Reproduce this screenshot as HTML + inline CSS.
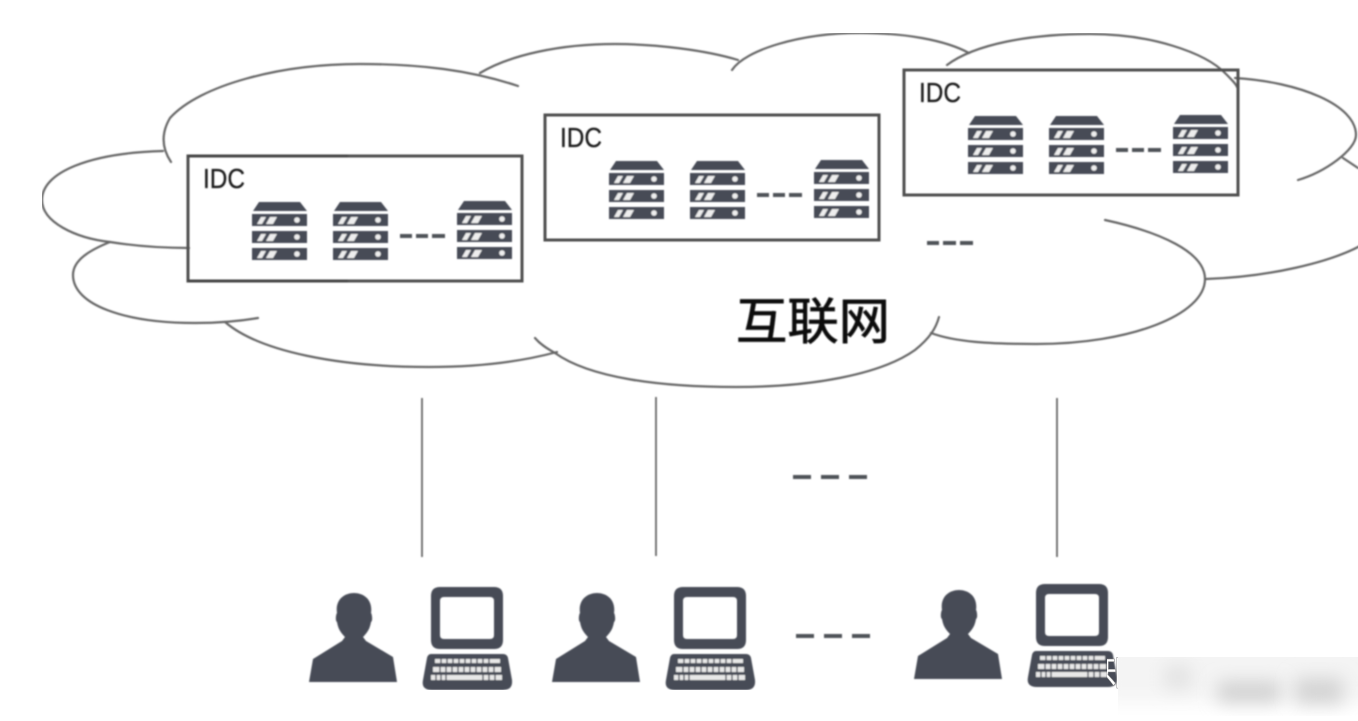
<!DOCTYPE html>
<html><head><meta charset="utf-8">
<style>
html,body{margin:0;padding:0;background:#fff;width:1358px;height:721px;overflow:hidden}
svg{display:block;position:absolute;left:0;top:0}
.all{filter:url(#soft)}
.cloud{fill:none;stroke:#666;stroke-width:2.2;stroke-linecap:round}
.box{fill:none;stroke:#505050;stroke-width:3}
.idc{font-family:"Liberation Sans",sans-serif;font-size:28px;fill:#1c1c1c;stroke:#1c1c1c;stroke-width:.3}
.cn{font-family:"Liberation Sans","Noto Sans CJK SC",sans-serif;font-size:50px;fill:#111;stroke:#111;stroke-width:.8}
.d{fill:#474b56}
.dash{stroke:#4f5259;stroke-width:4;fill:none}
.v{stroke:#606060;stroke-width:1.7}
</style></head>
<body>
<svg width="1358" height="721" viewBox="0 0 1358 721" xmlns="http://www.w3.org/2000/svg">
<defs>
<filter id="soft" x="0" y="0" width="100%" height="100%"><feGaussianBlur stdDeviation="0.7"/></filter>
<filter id="b6" x="-60%" y="-100%" width="220%" height="300%"><feGaussianBlur stdDeviation="9"/></filter>
<clipPath id="wm"><rect x="1107" y="640" width="11" height="70"/></clipPath>
<clipPath id="blurclip"><rect x="1118" y="657" width="240" height="59"/></clipPath>
<g id="srv">
  <path class="d" d="M1,9 L7,0 L48,0 L55,9 Z"/>
  <rect class="d" x="0" y="12" width="55" height="12"/>
  <rect class="d" x="0" y="29" width="55" height="12"/>
  <rect class="d" x="0" y="46" width="55" height="12"/>
  <g fill="#eeeeee">
    <path d="M5,22 L9,15 L14,15 L10,22Z M14,22 L18,15 L25,15 L21,22Z"/>
    <path d="M5,39 L9,32 L14,32 L10,39Z M14,39 L18,32 L25,32 L21,39Z"/>
    <path d="M5,56 L9,49 L14,49 L10,56Z M14,56 L18,49 L25,49 L21,56Z"/>
    <circle cx="45" cy="18" r="2.8"/><circle cx="45" cy="35" r="2.8"/><circle cx="45" cy="52" r="2.8"/>
  </g>
</g>
<g id="idc">
  <rect class="box" x="188" y="156" width="334" height="125"/>
  <use href="#srv" x="252" y="202"/>
  <use href="#srv" x="333" y="202"/>
  <use href="#srv" x="457" y="201"/>
  <path class="dash" d="M400,236h12M416,236h12M432,236h13"/>
</g>
<g id="user">
  <path class="d" d="M309,682 L313,659 L342,641 L345,637 C340,632 338,628 337,622 C335,621 336,614 337,613 C335,600 344,593 354,593 C364,593 373,600 371,613 C372,614 373,621 371,622 C370,628 368,632 363,637 L366,641 L393,657 L397,682 Z"/>
  <path class="d" fill-rule="evenodd" d="M440,587 H494 Q503,587 503,596 V640 Q503,649 494,649 H440 Q431,649 431,640 V596 Q431,587 440,587Z M444,597 Q440,597 440,601 V635 Q440,639 444,639 H490 Q494,639 494,635 V601 Q494,597 490,597Z"/>
  <path class="d" d="M431,654 H503 Q507,654 508,658 L512,680 Q513,690 503,690 H432 Q421,690 423,680 L427,658 Q428,654 431,654Z"/>
  <g fill="#e8e8e8">
    <rect x="435" y="659" width="65" height="4"/>
    <rect x="433" y="667" width="68" height="5"/>
    <rect x="431" y="675" width="71" height="5"/>
  </g>
  <g stroke="#474b56" stroke-width="1.3">
    <path d="M441,658v6M447,658v6M453,658v6M459,658v6M465,658v6M471,658v6M477,658v6M483,658v6M489,658v6"/>
    <path d="M440,666v7M446,666v7M452,666v7M458,666v7M464,666v7M470,666v7M476,666v7M482,666v7M488,666v7M494,666v7"/>
    <path d="M436,674v7M441,674v7M446,674v7M483,674v7M489,674v7M495,674v7"/>
  </g>
</g>
</defs>

<g class="all">
  <!-- cloud -->
  <path class="cloud" d="M171,162 C163,150 160,135 170,118 C200,85 280,64 360,64 C420,64 470,70 518,86"/>
  <path class="cloud" d="M480,73 C510,55 560,44 615,44 C655,44 705,50 738,60"/>
  <path class="cloud" d="M732,70 C745,50 800,33 860,33 C905,33 945,40 969,53"/>
  <path class="cloud" d="M947,65 C975,44 1030,34 1090,34 C1150,34 1205,52 1226,74 C1232,80 1236,84 1237,87"/>
  <path class="cloud" d="M1235,78 C1300,82 1356,105 1356,135 C1356,150 1325,172 1298,180"/>
  <path class="cloud" d="M1343,158 L1358,168"/>
  <path class="cloud" d="M1105,220 C1160,232 1205,252 1205,279 C1205,315 1130,344 1036,344 C990,344 955,342 931,333"/>
  <path class="cloud" d="M1206,279 C1270,277 1330,262 1360,246"/>
  <path class="cloud" d="M939,317 C936,328 930,338 915,350 C880,375 810,387 736,387 C660,387 590,378 555,353 C546,348 540,344 535,338"/>
  <path class="cloud" d="M225,322 C260,352 340,367 429,367 C480,367 520,362 557,352"/>
  <path class="cloud" d="M258,318 C240,321 220,323 195,323 C125,323 73,305 73,275 C73,260 90,250 110,242"/>
  <path class="cloud" d="M163,151 C90,153 42,172 42,200 C42,222 75,238 110,242 C135,246 160,248 189,248"/>

  <!-- IDC boxes -->
  <use href="#idc"/>
  <use href="#idc" x="357" y="-41"/>
  <use href="#idc" x="716" y="-86"/>
  <path d="M188,156H348M188,281H348" stroke="#444" stroke-width="3" fill="none"/>
  <text class="idc" x="203" y="188" textLength="42" lengthAdjust="spacingAndGlyphs">IDC</text>
  <text class="idc" x="560" y="147" textLength="42" lengthAdjust="spacingAndGlyphs">IDC</text>
  <text class="idc" x="919" y="102" textLength="42" lengthAdjust="spacingAndGlyphs">IDC</text>

  <path class="dash" d="M927,243h12M943,243h13M960,243h13"/>
  <text class="cn" x="736" y="339" textLength="154" lengthAdjust="spacingAndGlyphs">互联网</text>

  <!-- connectors -->
  <line class="v" x1="422" y1="398" x2="422" y2="557"/>
  <line class="v" x1="656" y1="397" x2="656" y2="556"/>
  <line class="v" x1="1057" y1="398" x2="1057" y2="557"/>
  <path class="dash" d="M793,477h18M821,477h18M849,477h18"/>
  <path class="dash" d="M796,636h18M824,636h18M852,636h18"/>

  <!-- users -->
  <use href="#user"/>
  <use href="#user" x="243" y="0"/>
  <use href="#user" x="605" y="-3"/>
</g>

<!-- watermark -->
<g clip-path="url(#wm)">
  <text x="1096" y="686" font-family="'Liberation Sans','Noto Sans CJK SC',sans-serif" font-size="38" fill="#fff" stroke="#8a8a8a" stroke-width="0.5">知</text>
</g>
<rect x="1118" y="657" width="240" height="59" fill="#fff"/>
<g clip-path="url(#blurclip)">
  <rect x="1100" y="640" width="280" height="62" fill="#f4f4f4" filter="url(#b6)"/>
  <rect x="1165" y="665" width="26" height="24" fill="#e2e2e2" filter="url(#b6)"/>
  <rect x="1218" y="682" width="62" height="20" fill="#cfcfcf" filter="url(#b6)"/>
  <rect x="1295" y="678" width="48" height="26" fill="#d3d3d3" filter="url(#b6)"/>
</g>
</svg>
</body></html>
